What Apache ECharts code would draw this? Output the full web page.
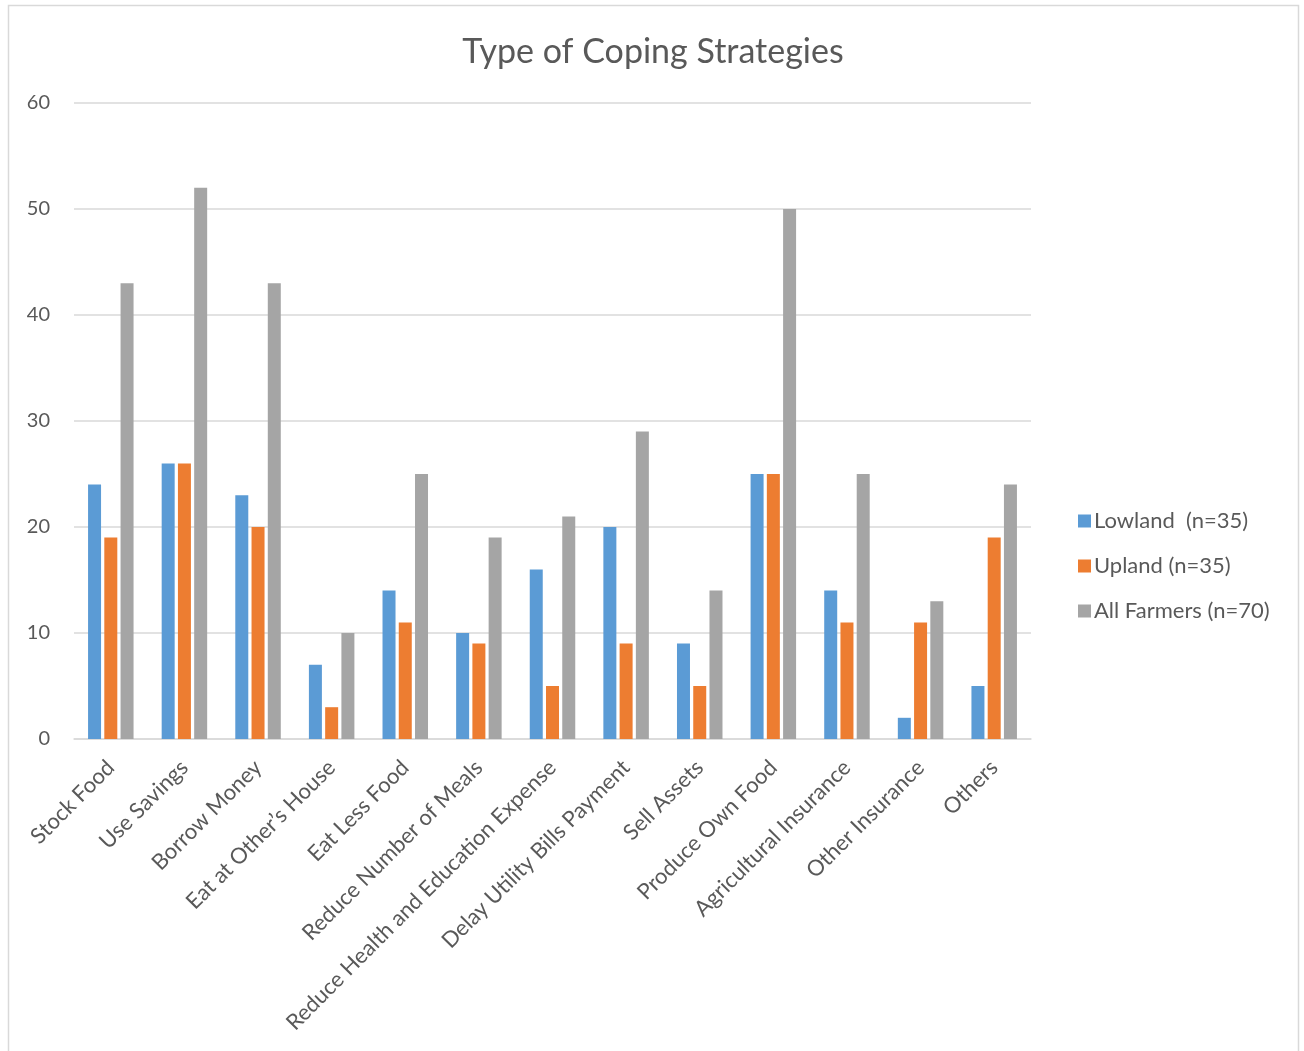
<!DOCTYPE html>
<html>
<head>
<meta charset="utf-8">
<script src="https://cdn.jsdelivr.net/npm/echarts@6/dist/echarts.min.js"></script>
<style>
  html, body { margin: 0; padding: 0; background: #fff; }
  #chart { width: 1304px; height: 1051px; }
</style>
</head>
<body>
<div id="chart"></div>
<script>
const categories = [
  'Stock Food', 'Use Savings', 'Borrow Money', 'Eat at Other\u2019s House', 'Eat Less Food',
  'Reduce Number of Meals', 'Reduce Health and Education Expense', 'Delay Utility Bills Payment',
  'Sell Assets', 'Produce Own Food', 'Agricultural Insurance', 'Other Insurance', 'Others'
];
const seriesNames = ['Lowland  (n=35)', 'Upland (n=35)', 'All Farmers (n=70)'];
const lowland = [24, 26, 23, 7, 14, 10, 16, 20, 9, 25, 14, 2, 5];
const upland = [19, 26, 20, 3, 11, 9, 5, 9, 5, 25, 11, 11, 19];
const allFarmers = [43, 52, 43, 10, 25, 19, 21, 29, 14, 50, 25, 13, 24];
const yTicks = [0, 10, 20, 30, 40, 50, 60];

const colors = ['#5B9BD5', '#ED7D31', '#A5A5A5'];
const font = 'Lato, "Open Sans", sans-serif';
const textColor = '#595959';

const chart = echarts.init(document.getElementById('chart'));
const values = [lowland, upland, allFarmers];

chart.setOption({
  animation: false,
  color: colors,
  textStyle: { fontFamily: font, color: textColor },
  graphic: [{
    type: 'rect',
    shape: { x: 8.5, y: 5.5, width: 1290, height: 1060 },
    style: { fill: 'none', stroke: '#d9d9d9', lineWidth: 1.5 },
    silent: true
  }],
  title: {
    text: 'Type of Coping Strategies',
    left: 648,
    textAlign: 'center',
    top: 30,
    textStyle: { fontFamily: font, fontSize: 34, fontWeight: 'normal', color: textColor }
  },
  legend: {
    orient: 'vertical',
    left: 1073,
    top: 505,
    itemWidth: 13,
    itemHeight: 13,
    itemGap: 23,
    icon: 'rect',
    textStyle: { fontFamily: font, fontSize: 22, color: textColor, padding: [0, 0, 0, -2] },
    data: seriesNames
  },
  grid: { left: 74, right: 273, top: 103, bottom: 312, containLabel: false },
  xAxis: {
    type: 'category',
    data: categories,
    axisLine: { lineStyle: { color: '#d9d9d9', width: 1.5 } },
    axisTick: { show: false },
    axisLabel: {
      rotate: 45,
      interval: 0,
      margin: 25,
      fontFamily: font,
      fontSize: 22,
      color: textColor
    }
  },
  yAxis: {
    type: 'value',
    min: yTicks[0],
    max: yTicks[yTicks.length - 1],
    interval: 10,
    axisLine: { show: false },
    axisTick: { show: false },
    splitLine: { lineStyle: { color: '#d9d9d9', width: 1.5 } },
    axisLabel: { fontFamily: font, fontSize: 20, color: textColor, margin: 24 }
  },
  series: seriesNames.map((name, i) => ({
    name,
    type: 'bar',
    data: values[i],
    barWidth: 13,
    barGap: '25%',
    itemStyle: { color: colors[i] }
  }))
});
</script>
</body>
</html>
